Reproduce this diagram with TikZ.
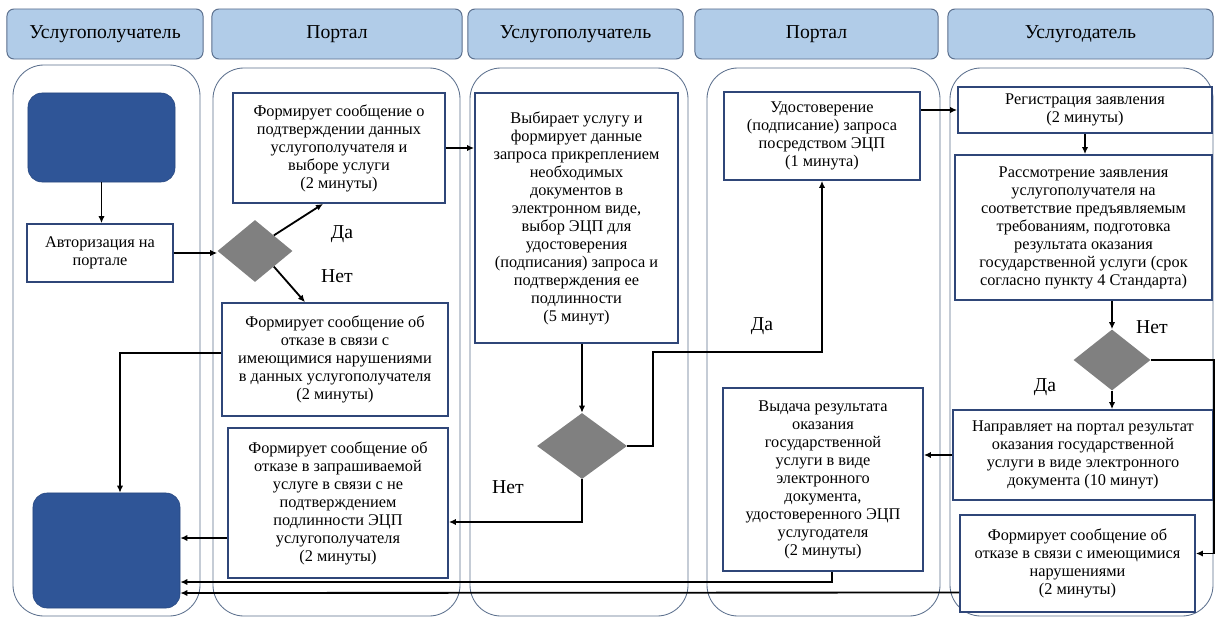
\documentclass[tikz,border=0pt]{standalone}
\usepackage{fontspec}
\setmainfont{Liberation Serif}
\usetikzlibrary{arrows.meta,positioning,calc,shapes.geometric}
\definecolor{LaneHead}{HTML}{B1CCE8}
\definecolor{LaneEdge}{HTML}{5A6E8C}
\definecolor{BoxEdge}{HTML}{2F4678}
\definecolor{TermBlue}{HTML}{2F5597}
\definecolor{GateGray}{HTML}{808080}

\begin{document}
\begin{tikzpicture}[x=0.025cm,y=-0.025cm,
    head/.style={draw=LaneEdge,fill=LaneHead,rounded corners=5pt,line width=0.7pt,inner sep=0pt,font=\fontsize{14}{16}\selectfont},
    lane/.style={draw=LaneEdge,line width=0.6pt,rounded corners=22pt},
    term/.style={fill=TermBlue,draw=TermBlue!85!black,rounded corners=10pt,inner sep=0pt},
    proc/.style={draw=BoxEdge,line width=1.2pt,fill=white,align=center,inner sep=2pt,font=\fontsize{11.6}{12.8}\selectfont},
    gate/.style={diamond,fill=GateGray,inner sep=0pt},
    flow/.style={line width=1.3pt,-{Latex[length=5pt,width=4.5pt]}},
    tag/.style={font=\fontsize{14}{16}\selectfont}]
	\useasboundingbox (0,0) rectangle (1216,618);
	% lanes
	\draw[lane] (13,65) rectangle (200,616);
	\draw[lane] (213,68) rectangle (460,616);
	\draw[lane] (470,68) rectangle (688,616);
	\draw[lane] (707,68) rectangle (940,616);
	\draw[lane] (950,68) rectangle (1213,616);
	% headers
	\node[head,minimum width=4.9cm,minimum height=1.25cm] (h1) at (105,34) {Услугополучатель};
	\node[head,minimum width=6.25cm,minimum height=1.25cm] (h2) at (337,34) {Портал};
	\node[head,minimum width=5.375cm,minimum height=1.25cm] (h3) at (575.5,34) {Услугополучатель};
	\node[head,minimum width=6.075cm,minimum height=1.25cm] (h4) at (816.5,34) {Портал};
	\node[head,minimum width=6.625cm,minimum height=1.25cm] (h5) at (1080.5,34) {Услугодатель};

	% lane 1
	\node[term,minimum width=3.675cm,minimum height=2.225cm] (start) at (101.5,137.5) {};
	\node[proc,minimum width=3.65cm,minimum height=1.45cm] (auth) at (100,253) {Авторизация на\\портале};
	\node[term,minimum width=3.675cm,minimum height=2.875cm] (finish) at (106.5,550.5) {};

	% lane 2
	\node[proc,minimum width=5.3cm,minimum height=2.75cm] (confirm) at (339,148)
		{Формирует сообщение о\\подтверждении данных\\услугополучателя и\\выборе услуги\\(2 минуты)};
	\node[gate,minimum width=1.875cm,minimum height=1.55cm] (gate1) at (255,251) {};
	\node[proc,minimum width=5.65cm,minimum height=2.825cm] (refuse1) at (335,359.5)
		{Формирует сообщение об\\отказе в связи с\\имеющимися нарушениями\\в данных услугополучателя\\(2 минуты)};
	\node[proc,minimum width=5.5cm,minimum height=3.75cm] (refuse2) at (338,503)
		{Формирует сообщение об\\отказе в запрашиваемой\\услуге в связи с не\\подтверждением\\подлинности ЭЦП\\услугополучателя\\(2 минуты)};
	\node[tag] (yes1) at (342,234) {Да};
	\node[tag] (no1) at (337,276) {Нет};

	% lane 3
	\node[proc,minimum width=5.075cm,minimum height=6.25cm] (choose) at (576.5,218)
		{Выбирает услугу и\\формирует данные\\запроса прикреплением\\необходимых\\документов в\\электронном виде,\\выбор ЭЦП для\\удостоверения\\(подписания) запроса и\\подтверждения ее\\подлинности\\(5 минут)};
	\node[gate,minimum width=2.25cm,minimum height=1.65cm] (gate2) at (582,446) {};
	\node[tag] (no2) at (508,487) {Нет};

	% lane 4
	\node[proc,minimum width=4.9cm,minimum height=2.2cm] (sign) at (822,136)
		{Удостоверение\\(подписание) запроса\\посредством ЭЦП\\(1 минута)};
	\node[proc,minimum width=5cm,minimum height=4.575cm] (issue) at (823,479.5)
		{Выдача результата\\оказания\\государственной\\услуги в виде\\электронного\\документа,\\удостоверенного ЭЦП\\услугодателя\\(2 минуты)};
	\node[tag] (yes2) at (762,326) {Да};

	% lane 5
	\node[proc,minimum width=6.35cm,minimum height=1.15cm] (reg) at (1085,110)
		{Регистрация заявления\\(2 минуты)};
	\node[proc,minimum width=6.425cm,minimum height=3.625cm] (review) at (1083.5,227.5)
		{Рассмотрение заявления\\услугополучателя на\\соответствие предъявляемым\\требованиям, подготовка\\результата оказания\\государственной услуги (срок\\согласно пункту 4 Стандарта)};
	\node[gate,minimum width=1.925cm,minimum height=1.525cm] (gate3) at (1112,360) {};
	\node[proc,minimum width=6.5cm,minimum height=2.25cm] (send) at (1083,455)
		{Направляет на портал результат\\оказания государственной\\услуги в виде электронного\\документа (10 минут)};
	\node[proc,minimum width=5.875cm,minimum height=2.425cm] (reject) at (1077.5,563.5)
		{Формирует сообщение об\\отказе в связи с имеющимися\\нарушениями\\(2 минуты)};
	\node[tag] (no3) at (1152,327) {Нет};
	\node[tag] (yes3) at (1045,387) {Да};

	% connectors
	\draw[flow] (start.south) -- (start.south |- auth.north);
	\draw[flow] (auth.east) -- (auth.east -| gate1.west);
	\draw[flow] (gate1.north east) -- ($(confirm.south)+(-16,0)$);
	\draw[flow] (gate1.south east) -- ($(refuse1.north)+(-30,0)$);
	\draw[flow] (confirm.east) -- (confirm.east -| choose.west);
	\draw[flow] (choose.south -| gate2.north) -- (gate2.north);
	\draw[flow] (gate2.east) -- ++(26,0) -- ++(0,-94) -| (sign.south);
	\draw[flow] (gate2.south) |- ($(refuse2.east)+(0,19)$);
	\draw[flow] (reg.west -| sign.east) -- (reg.west);
	\draw[flow] (reg.south) -- (reg.south |- review.north);
	\draw[flow] (gate3.north |- review.south) -- (gate3.north);
	\draw[flow] (gate3.south) -- (gate3.south |- send.north);
	\draw[flow] (gate3.east) -- ++(63,0) |- ($(reject.east)+(0,-10)$);
	\draw[flow] (send.west) -- (send.west -| issue.east);
	\draw[flow] ($(issue.south)+(9,0)$) |- ($(finish.east)+(0,31.5)$);
	\draw[flow] ($(reject.west)+(0,29)$) -- ($(finish.east)+(0,42.5)$);
	\draw[flow] ($(refuse1.west)+(0,-6.5)$) -| ($(finish.north)+(13.5,0)$);
	\draw[flow] ($(refuse2.west)+(0,35)$) -- ($(finish.east)+(0,-12.5)$);
\end{tikzpicture}
\end{document}
